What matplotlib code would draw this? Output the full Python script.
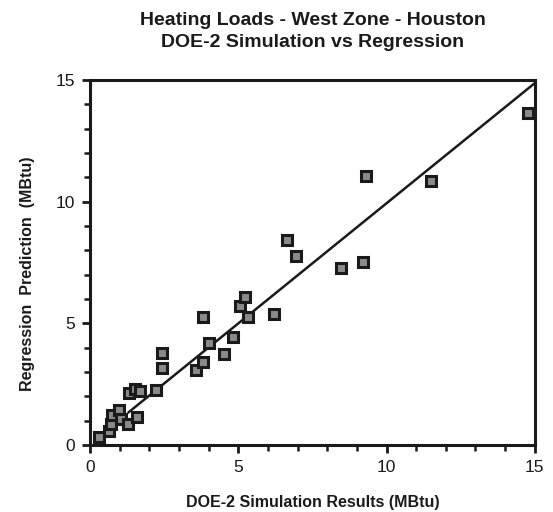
import matplotlib
matplotlib.use("Agg")
import matplotlib.pyplot as plt
import numpy as np
from matplotlib.ticker import MultipleLocator

# Data (DOE-2 simulation vs regression prediction, MBtu)
doe2 = [0.3, 0.64, 0.71, 0.74, 0.98, 1.04, 1.28, 1.58, 1.31, 1.52, 1.69, 2.22,
        2.43, 2.43, 3.57, 3.81, 3.80, 4.01, 4.52, 4.82, 5.06, 5.22, 5.33, 6.2,
        6.64, 6.94, 8.46, 9.2, 9.3, 11.49, 14.76]
regr = [0.33, 0.58, 0.87, 1.24, 1.44, 1.07, 0.87, 1.15, 2.14, 2.31, 2.22, 2.27,
        3.79, 3.17, 3.09, 3.42, 5.27, 4.2, 3.75, 4.45, 5.69, 6.06, 5.27, 5.36,
        8.4, 7.75, 7.29, 7.5, 11.04, 10.84, 13.64]
fit_x = [1.3, 15.0]
fit_slope = 0.987
fit_intercept = 0.06

title = "Heating Loads - West Zone - Houston\nDOE-2 Simulation vs Regression"
xlabel = "DOE-2 Simulation Results (MBtu)"
ylabel = "Regression  Prediction  (MBtu)"

plt.rcParams['font.family'] = ['Liberation Sans', 'DejaVu Sans']

fig = plt.figure(figsize=(5.53, 5.12), dpi=100)
ax = fig.add_axes([0.163, 0.131, 0.804, 0.713])

fx = np.array(fit_x)
ax.plot(fx, fit_intercept + fit_slope * fx, color='#1a1a1a', lw=1.8, zorder=2)
ax.plot(doe2, regr, linestyle='none', marker='s', markersize=6.8,
        mfc='#8a8a8a', mec='#1a1a1a', mew=2.2, zorder=3)

ax.set_xlim(0, 15)
ax.set_ylim(0, 15)
ax.xaxis.set_major_locator(MultipleLocator(5))
ax.yaxis.set_major_locator(MultipleLocator(5))
ax.xaxis.set_minor_locator(MultipleLocator(1))
ax.yaxis.set_minor_locator(MultipleLocator(1))
ax.tick_params(which='major', direction='out', length=6, width=2, labelsize=12.5,
               colors='#1a1a1a', pad=5)
ax.tick_params(which='minor', direction='out', length=4, width=1.8, colors='#1a1a1a')
for s in ax.spines.values():
    s.set_linewidth(2.2)
    s.set_color('#1a1a1a')

ax.set_title(title, fontsize=14, fontweight='bold', color='#1a1a1a', pad=24,
             linespacing=1.35)
ax.set_xlabel(xlabel, fontsize=11.5, fontweight='bold', color='#1a1a1a', labelpad=14)
ax.set_ylabel(ylabel, fontsize=11.5, fontweight='bold', color='#1a1a1a')
ax.yaxis.set_label_coords(-0.125, 0.47)

fig.savefig("out.png", dpi=100)
